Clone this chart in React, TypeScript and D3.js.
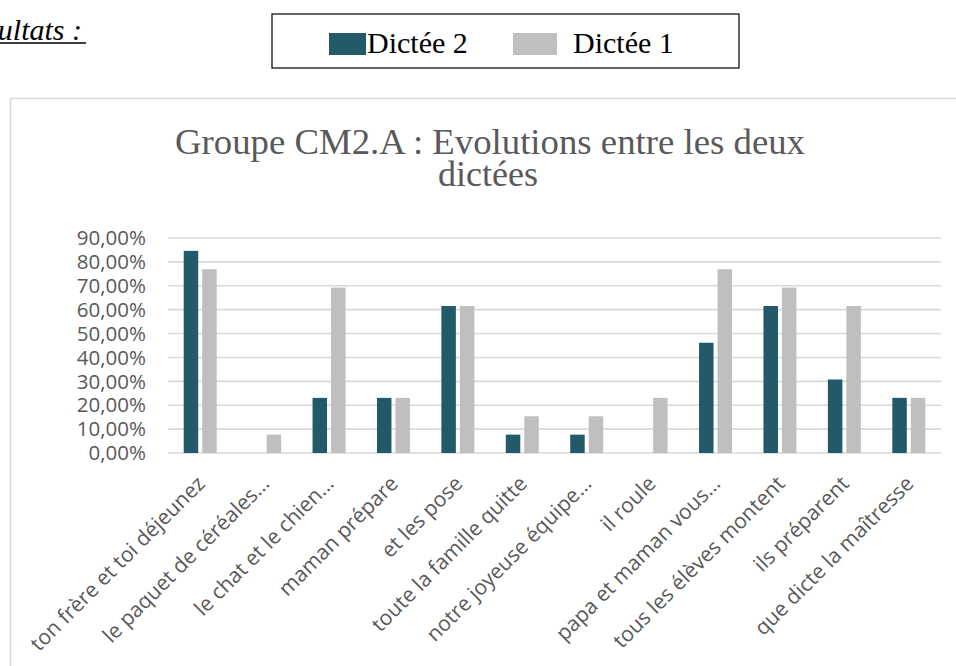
import * as d3 from "d3";

const categories = [
  "ton frère et toi déjeunez",
  "le paquet de céréales…",
  "le chat et le chien…",
  "maman prépare",
  "et les pose",
  "toute la famille quitte",
  "notre joyeuse équipe…",
  "il roule",
  "papa et maman vous…",
  "tous les élèves montent",
  "ils préparent",
  "que dicte la maîtresse",
];

const seriesNames = ["Dictée 2", "Dictée 1"];
const dictee2 = [0.8462, 0, 0.2308, 0.2308, 0.6154, 0.0769, 0.0769, 0, 0.4615, 0.6154, 0.3077, 0.2308];
const dictee1 = [0.7692, 0.0769, 0.6923, 0.2308, 0.6154, 0.1538, 0.1538, 0.2308, 0.7692, 0.6923, 0.6154, 0.2308];
const yTicks = [0, 0.1, 0.2, 0.3, 0.4, 0.5, 0.6, 0.7, 0.8, 0.9];

const colors = ["#225A69", "#BFBFBF"];
const textGrey = "#595959";
const sans = "'Open Sans', sans-serif";
const serif = "'Liberation Serif', 'Times New Roman', serif";

export default function App() {
  const width = 956;
  const height = 666;
  const left = 168;
  const right = 941;
  const top = 238;
  const bottom = 453;

  const x0 = d3.scaleBand<string>().domain(categories).range([left, right]).padding(0);
  const x1 = d3
    .scaleBand<string>()
    .domain(seriesNames)
    .range([0, x0.bandwidth()])
    .paddingInner(0.216)
    .paddingOuter(0.85);
  const y = d3.scaleLinear().domain([0, 0.9]).range([bottom, top]);

  const fmt = (v: number) => (v * 100).toFixed(2).replace(".", ",") + "%";
  const values = [dictee2, dictee1];

  return (
    <svg
      width={width}
      height={height}
      style={{ position: "absolute", left: 0, top: 0, background: "#fff" }}
    >
      {/* heading cut off on the left */}
      <text x={82} y={40} fontFamily={serif} fontStyle="italic" fontSize={30} textAnchor="end" fill="#000">
        Résultats :
      </text>
      <line x1={0} x2={86} y1={43} y2={43} stroke="#000" strokeWidth={1.5} />

      {/* legend */}
      <rect x={272} y={14} width={467} height={54} fill="#fff" stroke="#000" strokeWidth={1.2} />
      <rect x={329} y={33} width={37} height={22} fill={colors[0]} />
      <text x={367} y={53} fontFamily={serif} fontSize={30} fill="#000">
        {seriesNames[0]}
      </text>
      <rect x={513} y={33} width={44} height={22} fill={colors[1]} />
      <text x={573} y={53} fontFamily={serif} fontSize={30} fill="#000">
        {seriesNames[1]}
      </text>

      {/* chart area */}
      <rect x={10.5} y={98.5} width={1000} height={1000} fill="#fff" stroke="#D9D9D9" strokeWidth={1.5} />

      <text
        x={490}
        y={154}
        textAnchor="middle"
        fontFamily={serif}
        fontSize={36}
        fill={textGrey}
        textLength={630}
        lengthAdjust="spacingAndGlyphs"
      >
        Groupe CM2.A : Evolutions entre les deux
      </text>
      <text
        x={488}
        y={186}
        textAnchor="middle"
        fontFamily={serif}
        fontSize={36}
        fill={textGrey}
        textLength={100}
        lengthAdjust="spacingAndGlyphs"
      >
        dictées
      </text>

      {yTicks.map((t) => (
        <g key={t}>
          <line x1={left} x2={right} y1={y(t)} y2={y(t)} stroke="#D9D9D9" strokeWidth={1.6} />
          <text
            x={146}
            y={y(t)}
            dy="0.35em"
            textAnchor="end"
            fontFamily={sans}
            fontSize={20.5}
            fill={textGrey}
          >
            {fmt(t)}
          </text>
        </g>
      ))}

      {categories.map((c, i) => (
        <g key={c} transform={`translate(${x0(c)},0)`}>
          {seriesNames.map((s, j) => (
            <rect
              key={s}
              x={x1(s)}
              y={y(values[j][i])}
              width={x1.bandwidth()}
              height={bottom - y(values[j][i])}
              fill={colors[j]}
            />
          ))}
        </g>
      ))}

      {categories.map((c) => {
        const cx = (x0(c) as number) + x0.bandwidth() / 2;
        return (
          <text
            key={c}
            transform={`translate(${cx + 6},485) rotate(-45)`}
            textAnchor="end"
            fontFamily={sans}
            fontSize={21}
            fill={textGrey}
          >
            {c}
          </text>
        );
      })}
    </svg>
  );
}
